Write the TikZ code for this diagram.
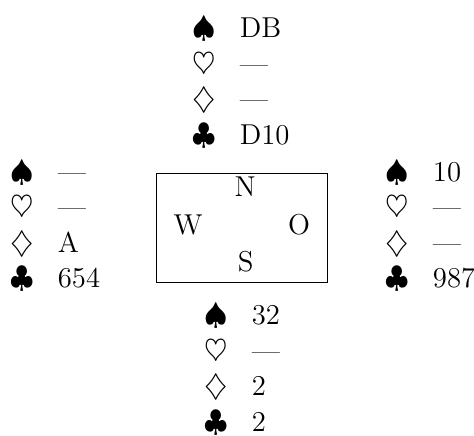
\documentclass[tikz,border=0pt]{standalone}
\usetikzlibrary{positioning}

% one hand: spades, hearts, diamonds, clubs
\newcommand{\bridgehand}[4]{%
  \renewcommand{\arraystretch}{1.02}%
  \begin{tabular}{@{}c@{\hspace{9.5pt}}l@{}}
    $\spadesuit$ & #1\\
    $\heartsuit$ & #2\\
    $\diamondsuit$ & #3\\
    $\clubsuit$ & #4
  \end{tabular}}

\begin{document}
\begin{tikzpicture}[inner sep=0pt,outer sep=0pt,
font=\fontsize{11.5pt}{13.9pt}\selectfont,
handblock/.style={anchor=west},
seat/.style={inner sep=0pt}]
\useasboundingbox (-3.395,-2.910) rectangle (3.268,3.205);
% the table
\draw (0,0) node[draw,minimum width=2.404cm,minimum height=1.546cm] (table) {};
\node[seat] (N) at (0.05,0.58) {N};
\node[seat] (S) at (0.06,-0.48) {S};
\node[seat] (W) at (-0.75,0.04) {W};
\node[seat] (O) at (0.81,0.04) {O};
% the four hands
\node[handblock] (north) at (-0.685,2.025) {\bridgehand{DB}{---}{---}{D10}};
\node[handblock] (west) at (-3.243,0.01) {\bridgehand{---}{---}{A}{654}};
\node[handblock] (east) at (2.029,0.01) {\bridgehand{10}{---}{---}{987}};
\node[handblock] (south) at (-0.516,-2.01) {\bridgehand{32}{---}{2}{2}};
\end{tikzpicture}
\end{document}
